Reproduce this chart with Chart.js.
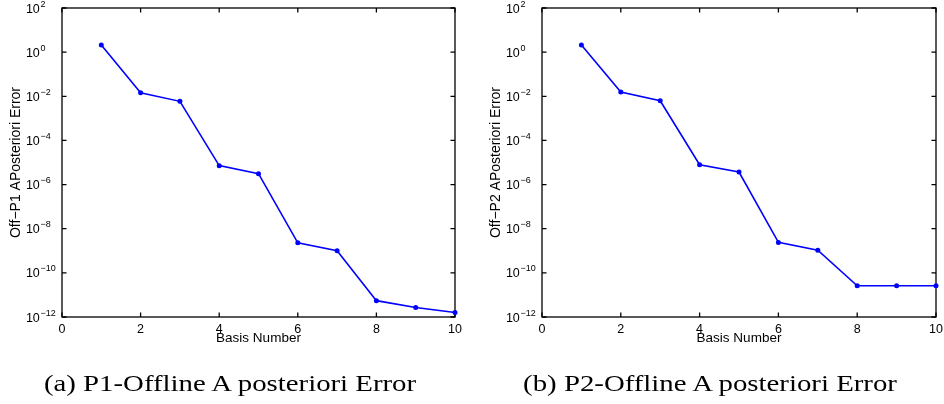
<!DOCTYPE html>
<html>
<head>
<meta charset="utf-8">
<script src="https://cdn.jsdelivr.net/npm/chart.js@4.4.1/dist/chart.umd.min.js"></script>
<style>
  body { margin: 0; background: #fff; width: 944px; height: 404px; position: relative; overflow: hidden; }
  .wrap { position: absolute; top: 0; width: 472px; height: 404px; }
  .caption { position: absolute; top: 371px; font: 24px "Liberation Serif", serif; line-height: 24px;
             white-space: nowrap; transform: translateX(-50%) scaleX(1.2); color: #000; }
</style>
</head>
<body>
<div class="wrap" style="left:0"><canvas id="chartP1"></canvas></div>
<div class="wrap" style="left:472px"><canvas id="chartP2"></canvas></div>
<div class="caption" style="left:230px">(a) P1-Offline A posteriori Error</div>
<div class="caption" style="left:710px">(b) P2-Offline A posteriori Error</div>
<script>
// values
const basisNumbers = [1, 2, 3, 4, 5, 6, 7, 8, 9, 10];
const p1Error = [2.1, 0.0145, 0.0059, 7.2e-6, 3.1e-6, 2.3e-9, 1.0e-9, 5.5e-12, 2.7e-12, 1.6e-12];
const p2Error = [2.1, 0.0155, 0.0063, 7.9e-6, 3.7e-6, 2.4e-9, 1.07e-9, 2.6e-11, 2.6e-11, 2.6e-11];

const xTicks = [0, 2, 4, 6, 8, 10];
const yTickExps = [-12, -10, -8, -6, -4, -2, 0, 2];

const sans = '"Liberation Sans", Arial, sans-serif';

// matlab style box, inward ticks and 10^n labels
const frame = {
  id: 'frame',
  beforeDatasetsDraw(chart, args, opts) {
    const { ctx, chartArea: a, scales: { x, y } } = chart;
    const tick = 4.5;
    ctx.save();
    ctx.strokeStyle = '#000';
    ctx.lineWidth = 1.3;
    ctx.strokeRect(a.left, a.top, a.right - a.left, a.bottom - a.top);
    ctx.beginPath();
    xTicks.forEach(v => {
      const px = x.getPixelForValue(v);
      ctx.moveTo(px, a.bottom); ctx.lineTo(px, a.bottom - tick);
      ctx.moveTo(px, a.top); ctx.lineTo(px, a.top + tick);
    });
    yTickExps.forEach(e => {
      const py = y.getPixelForValue(Math.pow(10, e));
      ctx.moveTo(a.left, py); ctx.lineTo(a.left + tick, py);
      ctx.moveTo(a.right, py); ctx.lineTo(a.right - tick, py);
    });
    ctx.stroke();

    ctx.fillStyle = '#000';
    ctx.font = '12.5px ' + sans;
    ctx.textAlign = 'center';
    ctx.textBaseline = 'alphabetic';
    xTicks.forEach(v => ctx.fillText(String(v), x.getPixelForValue(v), a.bottom + 16));

    yTickExps.forEach(e => {
      const py = y.getPixelForValue(Math.pow(10, e));
      ctx.font = '12.5px ' + sans;
      ctx.textAlign = 'right';
      ctx.fillText('10', a.left - 22.2, py + 4.6);
      ctx.font = '9px ' + sans;
      ctx.textAlign = 'left';
      ctx.fillText(e < 0 ? '\u2212' + (-e) : String(e), a.left - 21.6, py - 1.5);
    });

    ctx.font = '13.5px ' + sans;
    ctx.textAlign = 'center';
    ctx.fillText(opts.xTitle, (a.left + a.right) / 2, a.bottom + 24.5);
    ctx.font = '14px ' + sans;
    ctx.save();
    ctx.translate(a.left - 46, (a.top + a.bottom) / 2);
    ctx.rotate(-Math.PI / 2);
    ctx.textBaseline = 'middle';
    ctx.fillText(opts.yTitle, 0, 0);
    ctx.restore();
    ctx.restore();
  }
};

function makeChart(id, values, yTitle, padLeft, padRight) {
  const ctx = document.getElementById(id).getContext('2d');
  return new Chart(ctx, {
    type: 'line',
    data: {
      datasets: [{
        data: basisNumbers.map((b, i) => ({ x: b, y: values[i] })),
        borderColor: '#0000ff',
        backgroundColor: '#0000ff',
        borderWidth: 1.6,
        pointRadius: 2.5,
        pointBorderWidth: 0,
        pointBackgroundColor: '#0000ff',
        tension: 0,
        clip: false
      }]
    },
    options: {
      responsive: true,
      maintainAspectRatio: false,
      animation: false,
      layout: { padding: { left: padLeft, right: padRight, top: 8, bottom: 87 } },
      scales: {
        x: { type: 'linear', min: 0, max: 10, display: false },
        y: { type: 'logarithmic', min: 1e-12, max: 1e2, display: false }
      },
      plugins: {
        legend: { display: false },
        tooltip: { enabled: false },
        frame: { xTitle: 'Basis Number', yTitle: yTitle }
      }
    },
    plugins: [frame]
  });
}

makeChart('chartP1', p1Error, 'Off\u2212P1 APosteriori Error', 62, 17);
makeChart('chartP2', p2Error, 'Off\u2212P2 APosteriori Error', 70, 8);
</script>
</body>
</html>
